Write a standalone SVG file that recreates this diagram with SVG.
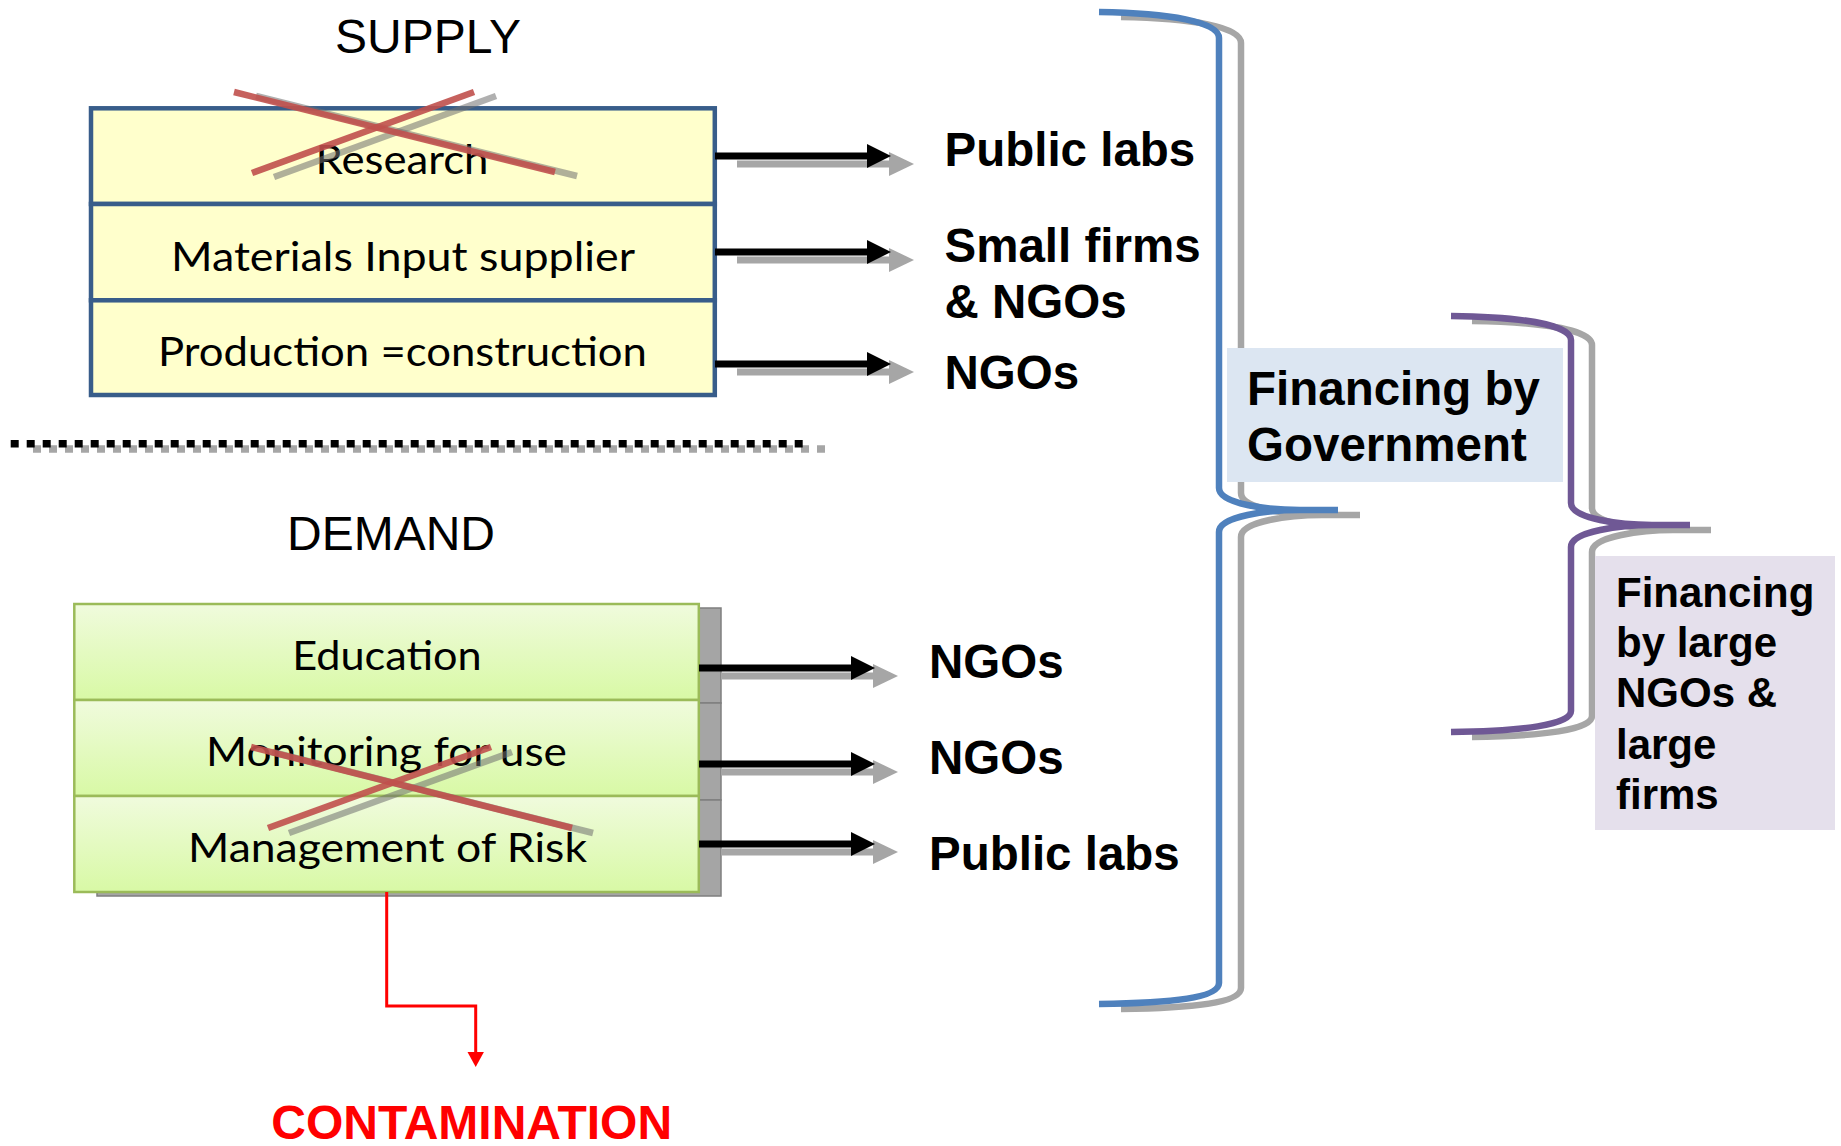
<svg xmlns="http://www.w3.org/2000/svg" xmlns:xlink="http://www.w3.org/1999/xlink" width="1841" height="1146" viewBox="0 0 1841 1146">
<defs>
<style>
.title{font-family:"Liberation Sans",Arial,sans-serif;font-size:48px;fill:#000;text-anchor:middle}
.lbl{font-family:"Liberation Sans",Arial,sans-serif;font-weight:bold;font-size:47.5px;fill:#000}
.lbl2{font-family:"Liberation Sans",Arial,sans-serif;font-weight:bold;font-size:42px;fill:#000}
.red{font-family:"Liberation Sans",Arial,sans-serif;font-weight:bold;font-size:48px;fill:#FF0000;text-anchor:middle}
.cell{font-family:Lato,"Open Sans",sans-serif;font-size:40px;fill:#000;text-anchor:middle}
.sup{fill:#FFFFCC;stroke:#385D8A;stroke-width:4.5}
.dem{fill:url(#gGreen);stroke:#9BBB59;stroke-width:2.5}
.shd{fill:#A5A5A5;stroke:#7F7F7F;stroke-width:1.5}
.xr{stroke:#C0504D;stroke-width:6.5;opacity:0.9;fill:none}
.xg{stroke:#6F6F6F;stroke-width:6.5;opacity:0.55;fill:none}
.brace{fill:none;stroke-width:6.5}
.dots{fill:none;stroke-width:7.5;stroke-dasharray:8 8}
</style>
<linearGradient id="gGreen" x1="0" y1="0" x2="0" y2="1">
<stop offset="0" stop-color="#F0FBDD"/>
<stop offset="1" stop-color="#D8F9A5"/>
</linearGradient>
<g id="arrow">
<line x1="22" y1="8" x2="176" y2="8" stroke="#A6A6A6" stroke-width="7"/>
<polygon points="174,-4 199,8 174,20" fill="#A6A6A6"/>
<line x1="0" y1="0" x2="154" y2="0" stroke="#000" stroke-width="7"/>
<polygon points="152,-12 176,0 152,12" fill="#000"/>
</g>
<path id="bigBrace" d="M1099,12 C1170,13 1219,22 1219,38 L1219,488 C1219,504 1268,510 1300,510 L1338,510 M1338,510 L1300,510 C1268,510 1219,516 1219,532 L1219,983 C1219,998 1170,1003 1099,1004"/>
<path id="smallBrace" d="M1451,316 C1522,317 1571,325 1571,340 L1571,503 C1571,519 1622,525 1652,525 L1690,525 M1690,525 L1652,525 C1622,525 1571,531 1571,547 L1571,711 C1571,725 1522,731 1451,732"/>
</defs>

<rect width="1841" height="1146" fill="#FFFFFF"/>

<g id="supply-title"><text class="title" x="428" y="53">SUPPLY</text></g>
<g id="demand-title"><text class="title" x="391" y="550">DEMAND</text></g>

<g id="divider">
<line class="dots" x1="33" y1="449" x2="827" y2="449" stroke="#A6A6A6"/>
<line class="dots" x1="10.7" y1="443.7" x2="803" y2="443.7" stroke="#000"/>
</g>

<g id="supply">
<rect class="sup" x="91" y="108.3" width="623.8" height="95.7"/>
<rect class="sup" x="91" y="204" width="623.8" height="96.3"/>
<rect class="sup" x="91" y="300.3" width="623.8" height="94.7"/>
<text class="cell" x="402" y="174" textLength="173" lengthAdjust="spacingAndGlyphs">Research</text>
<text class="cell" x="403" y="271" textLength="464" lengthAdjust="spacingAndGlyphs">Materials Input supplier</text>
<text class="cell" x="402.5" y="366" textLength="489" lengthAdjust="spacingAndGlyphs">Production =construction</text>
<g id="supply-cross">
<line class="xg" x1="256" y1="96" x2="577" y2="176"/>
<line class="xg" x1="496" y1="96" x2="274" y2="177"/>
<line class="xr" x1="234" y1="92" x2="555" y2="172"/>
<line class="xr" x1="474" y1="92" x2="252" y2="173"/>
</g>
</g>

<g id="demand">
<rect class="shd" x="97" y="608" width="624" height="95"/>
<rect class="shd" x="97" y="703" width="624" height="97"/>
<rect class="shd" x="97" y="800" width="624" height="96"/>
<rect class="dem" x="74.3" y="604" width="624.5" height="96"/>
<rect class="dem" x="74.3" y="700" width="624.5" height="96"/>
<rect class="dem" x="74.3" y="796" width="624.5" height="96"/>
<text class="cell" x="387" y="670" textLength="189.5" lengthAdjust="spacingAndGlyphs">Education</text>
<text class="cell" x="386.5" y="766" textLength="361" lengthAdjust="spacingAndGlyphs">Monitoring for use</text>
<text class="cell" x="387.5" y="862" textLength="399" lengthAdjust="spacingAndGlyphs">Management of Risk</text>
<g id="demand-cross">
<line class="xg" x1="272" y1="752" x2="593" y2="833"/>
<line class="xg" x1="512" y1="752" x2="289" y2="833"/>
<line class="xr" x1="251" y1="747" x2="572" y2="828"/>
<line class="xr" x1="491" y1="747" x2="268" y2="828"/>
</g>
</g>

<g id="connectors">
<use xlink:href="#arrow" href="#arrow" transform="translate(715,156)"/>
<use xlink:href="#arrow" href="#arrow" transform="translate(715,252)"/>
<use xlink:href="#arrow" href="#arrow" transform="translate(715,364)"/>
<use xlink:href="#arrow" href="#arrow" transform="translate(699,668)"/>
<use xlink:href="#arrow" href="#arrow" transform="translate(699,764)"/>
<use xlink:href="#arrow" href="#arrow" transform="translate(699,844)"/>
<polyline points="386.7,892 386.7,1006 475.7,1006 475.7,1054" fill="none" stroke="#FF0000" stroke-width="3"/>
<polygon points="467.5,1052 483.9,1052 475.7,1067" fill="#FF0000"/>
</g>

<g id="supply-labels">
<text class="lbl" x="944.5" y="166">Public labs</text>
<text class="lbl" x="944.5" y="262">Small firms</text>
<text class="lbl" x="944.5" y="318">&amp; NGOs</text>
<text class="lbl" x="944.5" y="389">NGOs</text>
</g>
<g id="demand-labels">
<text class="lbl" x="929" y="678">NGOs</text>
<text class="lbl" x="929" y="774">NGOs</text>
<text class="lbl" x="929" y="870">Public labs</text>
</g>

<g id="contamination">
<text class="red" x="471.7" y="1139">CONTAMINATION</text>
</g>

<g id="government-brace">
<use xlink:href="#bigBrace" href="#bigBrace" class="brace" stroke="#A6A6A6" transform="translate(22,5)"/>
</g>
<g id="financing-government">
<rect x="1227" y="348" width="336" height="134" fill="#DCE6F2"/>
<text class="lbl" x="1247" y="405">Financing by</text>
<text class="lbl" x="1247" y="461">Government</text>
</g>
<g id="government-brace-main">
<use xlink:href="#bigBrace" href="#bigBrace" class="brace" stroke="#4F81BD"/>
</g>

<g id="large-brace">
<use xlink:href="#smallBrace" href="#smallBrace" class="brace" stroke="#A6A6A6" transform="translate(21,5)"/>
<use xlink:href="#smallBrace" href="#smallBrace" class="brace" stroke="#6F5895"/>
</g>
<g id="financing-large">
<rect x="1595" y="556" width="240" height="274" fill="#E5E0EC"/>
<text class="lbl2" x="1616" y="607">Financing</text>
<text class="lbl2" x="1616" y="657">by large</text>
<text class="lbl2" x="1616" y="707">NGOs &amp;</text>
<text class="lbl2" x="1616" y="759">large</text>
<text class="lbl2" x="1616" y="809">firms</text>
</g>
</svg>
